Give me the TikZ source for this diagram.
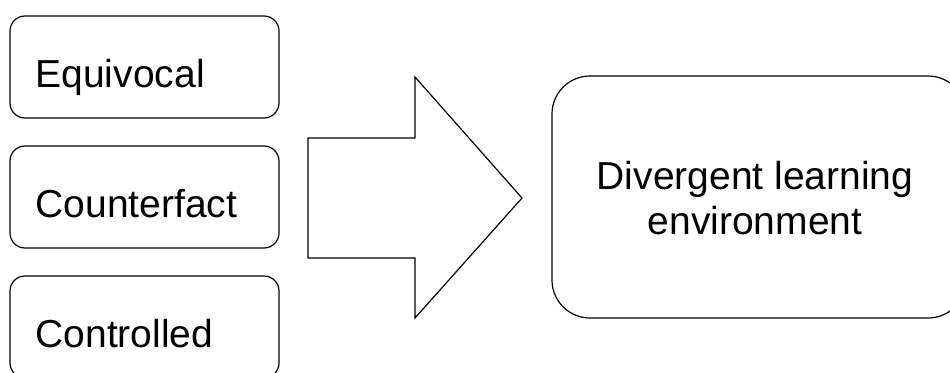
\documentclass[tikz,border=0pt]{standalone}
\usepackage{fontspec}
\setmainfont{Liberation Sans}
\begin{document}
\begin{tikzpicture}[x=1pt,y=-1pt,line width=1.2pt,
  smallbox/.style={draw, rounded corners=15pt, minimum width=269pt, minimum height=102pt, inner sep=0pt},
  bigbox/.style={draw, rounded corners=38pt, minimum width=414pt, minimum height=242pt, inner sep=0pt},
  lbl/.style={font=\fontsize{39}{45}\selectfont, inner sep=0pt}]
\useasboundingbox (0,0) rectangle (950,372);
\node[smallbox] (b1) at (144.5,67) {};
\node[smallbox] (b2) at (144.5,197) {};
\node[smallbox] (b3) at (144.5,327) {};
\node[bigbox] (big) at (759,197) {};
\node[lbl, anchor=base west] (t1) at (35,87) {Equivocal};
\node[lbl, anchor=base west] (t2) at (35,217) {Counterfact};
\node[lbl, anchor=base west] (t3) at (35,347) {Controlled};
\node[lbl, anchor=base, align=center] (t4) at (755,234) {Divergent learning\\environment};
\draw[line join=miter] (308,138) -- (415,138) -- (415,77) -- (522,198) -- (415,318) -- (415,258) -- (308,258) -- cycle;
\end{tikzpicture}
\end{document}
